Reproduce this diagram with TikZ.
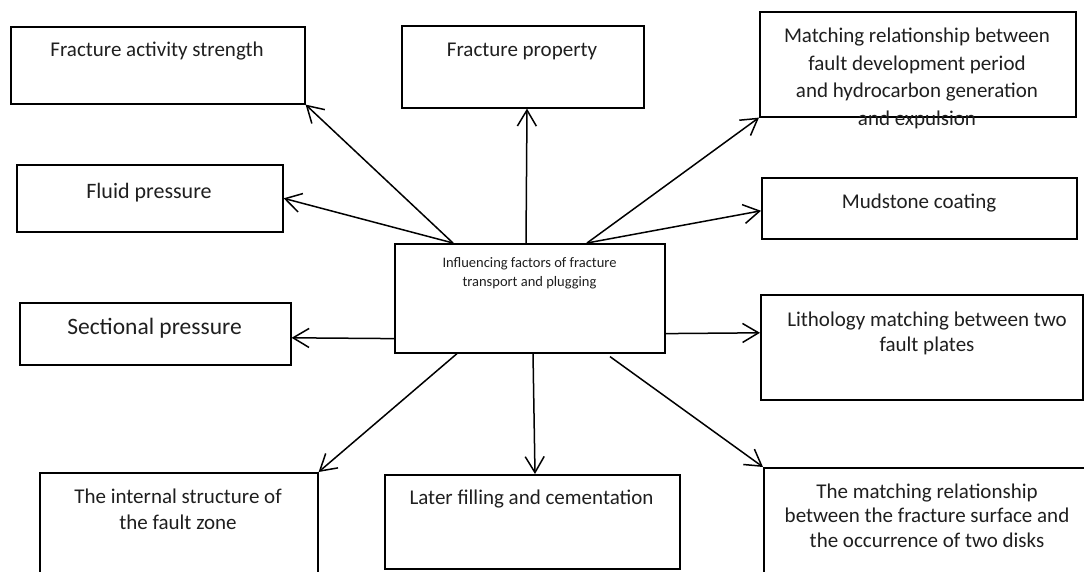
\documentclass[tikz,border=0pt]{standalone}
\usepackage{fontspec}
\setmainfont{Carlito}
\usetikzlibrary{arrows.meta,calc}
\begin{document}
\begin{tikzpicture}[x=1pt,y=-1pt,
  box/.style={draw, line width=1.6pt, rectangle, inner sep=0, anchor=north west},
  lbl/.style={anchor=base, align=center, inner sep=0, text=black!88},
  arr/.style={line width=1.5pt, -{Straight Barb[length=16pt,width=19pt,line width=1.5pt]}},
]
\clip (0,0) rectangle (1084,571);
\fill[white] (0,0) rectangle (1084,571);
% boxes
\node[box, minimum width=294, minimum height=77] (fas) at (10,26) {};
\node[box, minimum width=242, minimum height=82] (fp) at (401,25) {};
\node[box, minimum width=316, minimum height=105] (mr) at (759,11) {};
\node[box, minimum width=266, minimum height=67] (fl) at (16,164) {};
\node[box, minimum width=315, minimum height=61] (mc) at (761,177) {};
\node[box, minimum width=270, minimum height=109] (c) at (394,243) {};
\node[box, minimum width=271, minimum height=62] (sp) at (19,302) {};
\node[box, minimum width=322, minimum height=105] (lm) at (760,294) {};
\node[box, minimum width=278, minimum height=140] (is) at (39,472) {};
\node[box, minimum width=295, minimum height=94] (lf) at (384,474) {};
\node[box, minimum width=328, minimum height=140] (mr2) at (763,467) {};
% texts (base anchor = baseline of last line)
\node[lbl, font=\fontsize{21}{27}\selectfont] (fas-t) at (157,56) {Fracture activity strength};
\node[lbl, font=\fontsize{21}{27}\selectfont] (fp-t) at (522,56) {Fracture property};
\node[lbl, font=\fontsize{21}{27.5}\selectfont] (mr-t) at (917,125) {Matching relationship between\\fault development period\\and hydrocarbon generation\\and expulsion};
\node[lbl, font=\fontsize{22}{27}\selectfont] (fl-t) at (149,198) {Fluid pressure};
\node[lbl, font=\fontsize{21}{27}\selectfont] (mc-t) at (919,208) {Mudstone coating};
\node[lbl, font=\fontsize{14.5}{19}\selectfont] (c-t) at (529.5,286) {Influencing factors of fracture\\transport and plugging};
\node[lbl, font=\fontsize{23.5}{28}\selectfont] (sp-t) at (154.5,334.5) {Sectional pressure};
\node[lbl, font=\fontsize{21}{25}\selectfont] (lm-t) at (927,351) {Lithology matching between two\\fault plates};
\node[lbl, font=\fontsize{21}{26}\selectfont] (is-t) at (178,529) {The internal structure of\\the fault zone};
\node[lbl, font=\fontsize{21}{25}\selectfont] (lf-t) at (531.5,504) {Later filling and cementation};
\node[lbl, font=\fontsize{21}{24.5}\selectfont] (mr2-t) at (927,547) {The matching relationship\\between the fracture surface and\\the occurrence of two disks};
% connectors
\draw[arr] ($(c.north west)+(59,0)$) -- (fas.south east);
\draw[arr] ($(c.north west)+(59,0)$) -- (fl.east);
\draw[arr] ($(c.north west)+(132,0)$) -- ($(fp.south west)+(126,0)$);
\draw[arr] ($(c.north west)+(193,0)$) -- (mr.south west);
\draw[arr] ($(c.north west)+(193,0)$) -- ($(mc.west)+(0,2.5)$);
\draw[arr] ($(c.south west)+(0,-15)$) -- ($(sp.east)+(0,4)$);
\draw[arr] ($(c.south east)+(0,-20)$) -- ($(lm.west)+(0,-14.5)$);
\draw[arr] ($(c.south west)+(63,0)$) -- (is.north east);
\draw[arr] ($(c.south west)+(139,0)$) -- ($(lf.north west)+(151,0)$);
\draw[arr] ($(c.south west)+(216,3)$) -- (mr2.north west);
\end{tikzpicture}
\end{document}
